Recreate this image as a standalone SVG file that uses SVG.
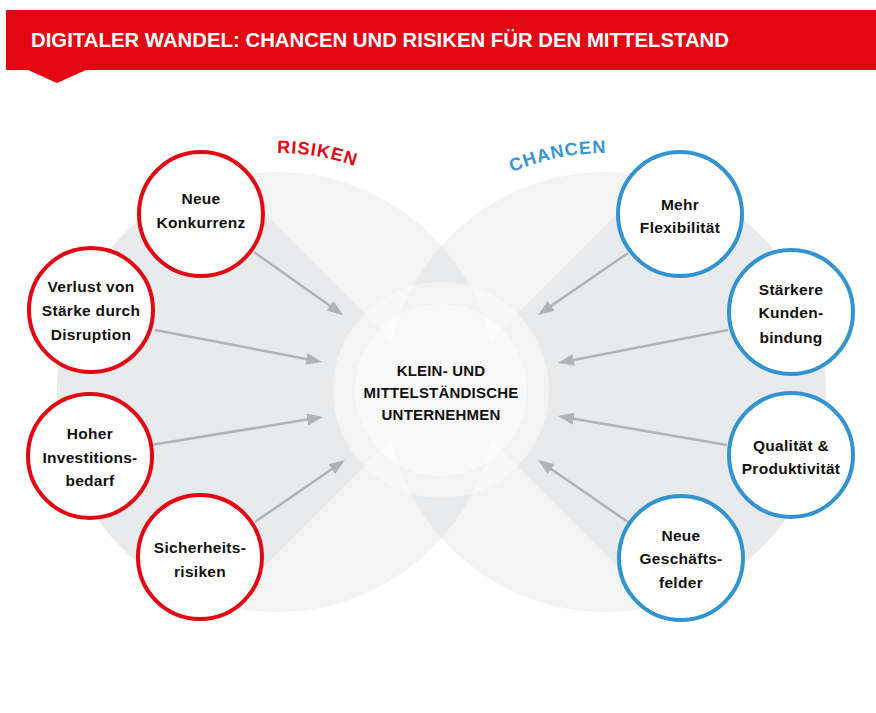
<svg xmlns="http://www.w3.org/2000/svg" width="876" height="713" viewBox="0 0 876 713">
  <style>
    .risk { fill: #ffffff; stroke: #e30613; stroke-width: 4; }
    .chance { fill: #ffffff; stroke: #3193d0; stroke-width: 4; }
    .lbl { font-family: "Liberation Sans", Arial, sans-serif; font-weight: bold; font-size: 15.5px; fill: #111111; text-anchor: middle; letter-spacing: 0.3px; }
    .core { font-family: "Liberation Sans", Arial, sans-serif; font-weight: bold; font-size: 15px; fill: #111111; text-anchor: middle; letter-spacing: 0.2px; }
    .side { font-family: "Liberation Sans", Arial, sans-serif; font-weight: bold; font-size: 18px; letter-spacing: 1px; }
    .arrow { fill: none; stroke: #b1b3b6; stroke-width: 2.5; marker-end: url(#head); }
  </style>
  <defs>
    <marker id="head" viewBox="0 0 16 12" refX="12" refY="6" markerWidth="16" markerHeight="12" markerUnits="userSpaceOnUse" orient="auto">
      <path d="M0,0 L16,6 L0,12 z" fill="#b1b3b6"/>
    </marker>
    <clipPath id="clipLeft"><circle cx="277" cy="392" r="220"/></clipPath>
    <clipPath id="clipRight"><circle cx="606" cy="392" r="220"/></clipPath>
    <path id="arcRisk" d="M 277 153 A 239 239 0 0 1 446 223"/>
    <path id="arcChance" d="M 437 223 A 239 239 0 0 1 606 153"/>
  </defs>

  <rect width="876" height="713" fill="#ffffff"/>

  <!-- header banner -->
  <g id="header">
    <rect x="6" y="10" width="870" height="60" fill="#e30613"/>
    <polygon points="28,70 86,70 57,83" fill="#e30613"/>
    <text x="31" y="47" textLength="698" lengthAdjust="spacingAndGlyphs" font-family="'Liberation Sans', Arial, sans-serif" font-weight="bold" font-size="21" fill="#ffffff">DIGITALER WANDEL: CHANCEN UND RISIKEN FÜR DEN MITTELSTAND</text>
  </g>

  <!-- background discs -->
  <g id="background">
    <circle cx="277" cy="392" r="220" fill="#f3f3f4"/>
    <circle cx="606" cy="392" r="220" fill="#f3f3f4"/>
    <polygon points="441,390 41,-10 41,790" fill="#e9eaeb" clip-path="url(#clipLeft)"/>
    <polygon points="441,390 841,-10 841,790" fill="#e9eaeb" clip-path="url(#clipRight)"/>
    <circle cx="606" cy="392" r="220" fill="#e9eaeb" clip-path="url(#clipLeft)"/>
    <circle cx="441" cy="390" r="108" fill="#ffffff" fill-opacity="0.45"/>
    <circle cx="441" cy="390" r="86" fill="#ffffff" fill-opacity="0.5"/>
  </g>

  <!-- side headings -->
  <g id="heading-risiken">
    <text class="side" fill="#e30613"><textPath href="#arcRisk" startOffset="0">RISIKEN</textPath></text>
  </g>
  <g id="heading-chancen">
    <text class="side" fill="#3a96d3"><textPath href="#arcChance" startOffset="91">CHANCEN</textPath></text>
  </g>

  <!-- connectors -->
  <g id="connectors">
    <line class="arrow" x1="254" y1="252" x2="339.7" y2="312.7"/>
    <line class="arrow" x1="155" y1="330" x2="318.1" y2="361.2"/>
    <line class="arrow" x1="151" y1="445" x2="319.1" y2="417.6"/>
    <line class="arrow" x1="255" y1="522" x2="341.7" y2="462.3"/>
    <line class="arrow" x1="628" y1="253" x2="541.3" y2="312.7"/>
    <line class="arrow" x1="728" y1="330" x2="561.9" y2="362.2"/>
    <line class="arrow" x1="727" y1="445" x2="561.9" y2="416.7"/>
    <line class="arrow" x1="628" y1="522" x2="541.3" y2="462.3"/>
  </g>

  <!-- centre -->
  <g id="center">
    <text class="core" x="441" y="376">KLEIN- UND</text>
    <text class="core" x="441" y="398">MITTELSTÄNDISCHE</text>
    <text class="core" x="441" y="420">UNTERNEHMEN</text>
  </g>

  <!-- risks -->
  <g id="risk-konkurrenz">
    <circle class="risk" cx="201" cy="214" r="62"/>
    <text class="lbl" x="201" y="204">Neue</text>
    <text class="lbl" x="201" y="228">Konkurrenz</text>
  </g>
  <g id="risk-disruption">
    <circle class="risk" cx="91" cy="310" r="62"/>
    <text class="lbl" x="91" y="292">Verlust von</text>
    <text class="lbl" x="91" y="316">Stärke durch</text>
    <text class="lbl" x="91" y="340">Disruption</text>
  </g>
  <g id="risk-investition">
    <circle class="risk" cx="90" cy="456" r="62"/>
    <text class="lbl" x="90" y="439">Hoher</text>
    <text class="lbl" x="90" y="463">Investitions-</text>
    <text class="lbl" x="90" y="486">bedarf</text>
  </g>
  <g id="risk-sicherheit">
    <circle class="risk" cx="200" cy="557" r="62"/>
    <text class="lbl" x="200" y="553">Sicherheits-</text>
    <text class="lbl" x="200" y="577">risiken</text>
  </g>

  <!-- opportunities -->
  <g id="chance-flexibilitaet">
    <circle class="chance" cx="680" cy="214" r="62"/>
    <text class="lbl" x="680" y="210">Mehr</text>
    <text class="lbl" x="680" y="233">Flexibilität</text>
  </g>
  <g id="chance-kundenbindung">
    <circle class="chance" cx="791" cy="312" r="62"/>
    <text class="lbl" x="791" y="295">Stärkere</text>
    <text class="lbl" x="791" y="318">Kunden-</text>
    <text class="lbl" x="791" y="343">bindung</text>
  </g>
  <g id="chance-qualitaet">
    <circle class="chance" cx="791" cy="455" r="62"/>
    <text class="lbl" x="791" y="451">Qualität &amp;</text>
    <text class="lbl" x="791" y="474">Produktivität</text>
  </g>
  <g id="chance-geschaeftsfelder">
    <circle class="chance" cx="681" cy="558" r="62"/>
    <text class="lbl" x="681" y="541">Neue</text>
    <text class="lbl" x="681" y="564">Geschäfts-</text>
    <text class="lbl" x="681" y="588">felder</text>
  </g>
</svg>
